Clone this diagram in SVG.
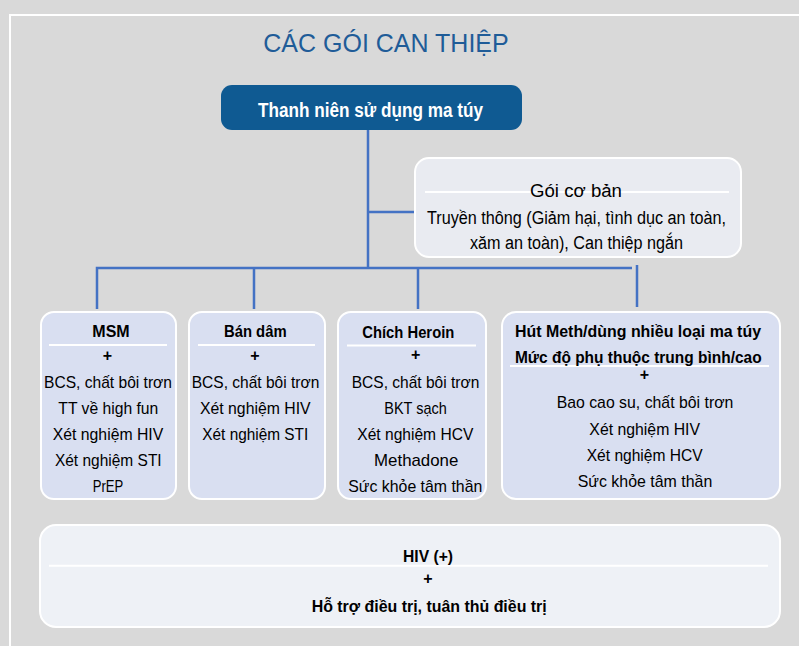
<svg xmlns="http://www.w3.org/2000/svg" width="799" height="646" viewBox="0 0 799 646">
<style>
text{font-family:"Liberation Sans",Arial,sans-serif;fill:#000;text-anchor:middle}
.r{font-size:17px}
.g{font-size:18px}
.b{font-size:16px;font-weight:bold}
.box{fill:#d9dff1;stroke:#fff;stroke-width:2}
.sep{stroke:#fff;stroke-width:2}
.con{stroke:#4472c4;stroke-width:2.5;fill:none}
</style>
<rect x="0" y="0" width="799" height="646" fill="#d9d9d9"/>
<path d="M10 646V15H799" fill="none" stroke="#fff" stroke-width="2"/>
<text x="386" y="52" style="font-size:25px;fill:#1f5c98">CÁC GÓI CAN THIỆP</text>

<g id="connectors">
<path class="con" d="M368 130V268M368 212H416M97 309V268H632M254 268V309M418 268V309M637 265V307"/>
</g>

<g id="root">
<rect x="221" y="85" width="301" height="45" rx="11" fill="#0f5a92"/>
<text x="370.5" y="116.5" style="font-size:20px;font-weight:bold;fill:#fff" textLength="225" lengthAdjust="spacingAndGlyphs">Thanh niên sử dụng ma túy</text>
</g>

<g id="basic">
<rect x="415" y="158" width="326" height="99" rx="14" fill="#e9ebf1" stroke="#fff" stroke-width="2"/>
<line class="sep" x1="425" y1="192" x2="729" y2="192"/>
<text class="g" x="576" y="197" textLength="92" lengthAdjust="spacingAndGlyphs">Gói cơ bản</text>
<text class="g" x="576.5" y="224" textLength="299" lengthAdjust="spacingAndGlyphs">Truyền thông (Giảm hại, tình dục an toàn,</text>
<text class="g" x="576.5" y="248.5" textLength="213" lengthAdjust="spacingAndGlyphs">xăm an toàn), Can thiệp ngắn</text>
</g>

<g id="msm">
<rect class="box" x="41" y="312" width="135" height="187" rx="13"/>
<line class="sep" x1="49" y1="345" x2="167" y2="345"/>
<text class="b" x="111" y="337">MSM</text>
<text class="b" x="107.5" y="361">+</text>
<text class="r" x="108" y="387.5" textLength="128" lengthAdjust="spacingAndGlyphs">BCS, chất bôi trơn</text>
<text class="r" x="108.3" y="413.5" textLength="100" lengthAdjust="spacingAndGlyphs">TT về high fun</text>
<text class="r" x="108" y="439.5" textLength="110.6" lengthAdjust="spacingAndGlyphs">Xét nghiệm HIV</text>
<text class="r" x="108.3" y="465.5" textLength="106.7" lengthAdjust="spacingAndGlyphs">Xét nghiệm STI</text>
<text class="r" x="108" y="491.5" textLength="30.6" lengthAdjust="spacingAndGlyphs">PrEP</text>
</g>

<g id="bandam">
<rect class="box" x="189" y="312" width="136" height="187" rx="13"/>
<line class="sep" x1="198" y1="345" x2="315" y2="345"/>
<text class="b" x="255.3" y="337" textLength="62.7" lengthAdjust="spacingAndGlyphs">Bán dâm</text>
<text class="b" x="255" y="361">+</text>
<text class="r" x="255.5" y="387.5" textLength="127.6" lengthAdjust="spacingAndGlyphs">BCS, chất bôi trơn</text>
<text class="r" x="255.3" y="413.5" textLength="110.7" lengthAdjust="spacingAndGlyphs">Xét nghiệm HIV</text>
<text class="r" x="255.3" y="439.5" textLength="106" lengthAdjust="spacingAndGlyphs">Xét nghiệm STI</text>
</g>

<g id="heroin">
<rect class="box" x="338" y="312" width="148" height="187" rx="13"/>
<line class="sep" x1="347" y1="345.5" x2="476" y2="345.5"/>
<text class="b" x="408.3" y="338" textLength="92" lengthAdjust="spacingAndGlyphs">Chích Heroin</text>
<text class="b" x="415.7" y="360">+</text>
<text class="r" x="415.5" y="388" textLength="127.6" lengthAdjust="spacingAndGlyphs">BCS, chất bôi trơn</text>
<text class="r" x="415.5" y="414" textLength="62.4" lengthAdjust="spacingAndGlyphs">BKT sạch</text>
<text class="r" x="415.3" y="440" textLength="116" lengthAdjust="spacingAndGlyphs">Xét nghiệm HCV</text>
<text class="r" x="416.2" y="466" textLength="84.3" lengthAdjust="spacingAndGlyphs">Methadone</text>
<text class="r" x="415.3" y="491.7" textLength="134" lengthAdjust="spacingAndGlyphs">Sức khỏe tâm thần</text>
</g>

<g id="meth">
<rect class="box" x="502" y="312" width="278" height="187" rx="14"/>
<line class="sep" x1="510" y1="366" x2="769" y2="366"/>
<text class="b" x="638" y="337" textLength="246" lengthAdjust="spacingAndGlyphs">Hút Meth/dùng nhiều loại ma túy</text>
<text class="b" x="638.3" y="363.3" textLength="246.7" lengthAdjust="spacingAndGlyphs">Mức độ phụ thuộc trung bình/cao</text>
<text class="b" x="644.3" y="380">+</text>
<text class="r" x="645" y="408.3" textLength="176.7" lengthAdjust="spacingAndGlyphs">Bao cao su, chất bôi trơn</text>
<text class="r" x="644.7" y="435" textLength="110.7" lengthAdjust="spacingAndGlyphs">Xét nghiệm HIV</text>
<text class="r" x="644.7" y="461" textLength="116" lengthAdjust="spacingAndGlyphs">Xét nghiệm HCV</text>
<text class="r" x="645" y="486.7" textLength="134.6" lengthAdjust="spacingAndGlyphs">Sức khỏe tâm thần</text>
</g>

<g id="hiv">
<rect x="40" y="525" width="740" height="102" rx="16" fill="#eef1f6" stroke="#fff" stroke-width="2"/>
<line class="sep" x1="49" y1="565.7" x2="768" y2="565.7"/>
<text class="b" x="428" y="561.7" textLength="50" lengthAdjust="spacingAndGlyphs">HIV (+)</text>
<text class="b" x="428" y="584">+</text>
<text class="b" x="429.2" y="611.7" textLength="235" lengthAdjust="spacingAndGlyphs">Hỗ trợ điều trị, tuân thủ điều trị</text>
</g>
</svg>
